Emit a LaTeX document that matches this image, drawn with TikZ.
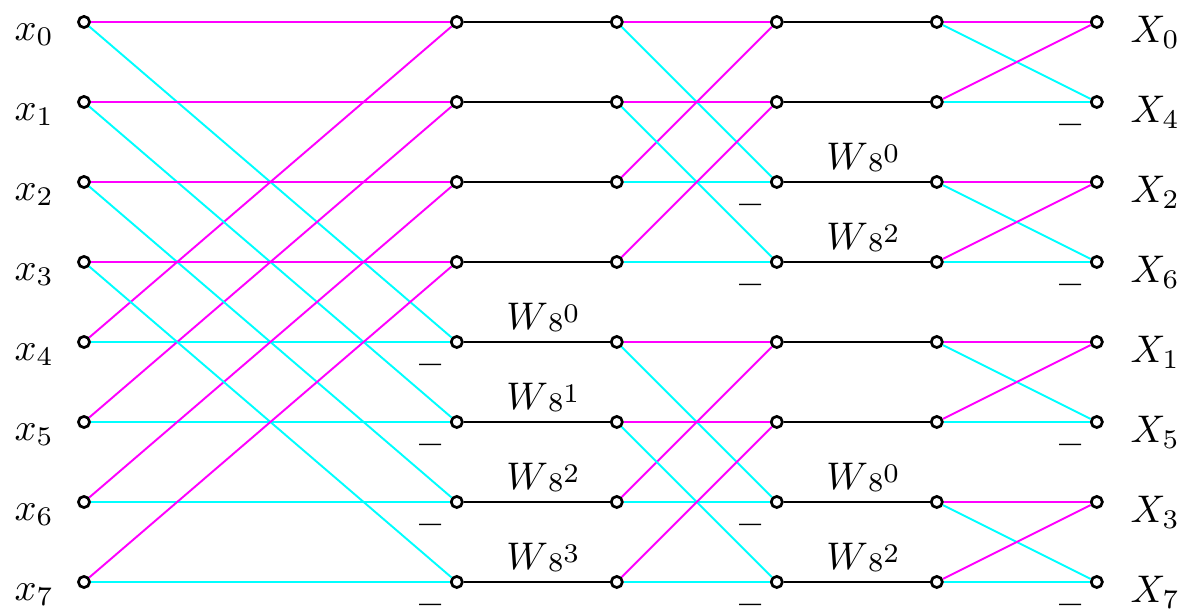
\documentclass[tikz,border=0pt]{standalone}
\usepackage{amsmath}
\usepackage{tikz}
\definecolor{sumc}{HTML}{FF00FF}
\definecolor{difc}{HTML}{00FFFF}
\newcommand\twf[1]{$W\raisebox{-0.5pt}{$\scriptstyle 8$}\raisebox{1.8pt}{$\scriptstyle #1$}$}
\newcommand\minbar{\raisebox{-2.4pt}[0.8pt][0pt]{\textbf{--}}}

\begin{document}
\begin{tikzpicture}[x=0.73cm,y=-0.73cm,line width=0.5pt,
  pt/.style={circle,draw,fill=white,line width=0.7pt,inner sep=0pt,minimum size=2.9pt},
  sum/.style={sumc},
  dif/.style={difc},
  inlab/.style={anchor=base east,xshift=-2.4pt,yshift=-4.7pt},
  outlab/.style={anchor=base west,xshift=3.4pt,yshift=-5.3pt},
  tw/.style={anchor=base,xshift=1.5pt,yshift=3.3pt},
  minus/.style={inner sep=0pt,xshift=-6.75pt,yshift=-5.9pt}]
  \useasboundingbox(-1.05,-0.275)rectangle(13.7,7.3375);
  % points of each column
  \foreach \c/\x in {a/0,b/4.66,c/6.66,d/8.66,e/10.66,f/12.66}
    \foreach \i in {0,...,7}\node[pt](\c\i)at(\x,\i){};
  % butterflies
  \foreach \p/\q/\i/\j in {a/b/0/4,a/b/1/5,a/b/2/6,a/b/3/7,c/d/0/2,c/d/1/3,c/d/4/6,c/d/5/7,e/f/0/1,e/f/2/3,e/f/4/5,e/f/6/7}{
    \draw[sum](\p\i)--(\q\i);\draw[dif](\p\i)--(\q\j);
    \draw[sum](\p\j)--(\q\i);\draw[dif](\p\j)--(\q\j);
    \node[minus](m\q\j)at(\q\j){\minbar};}
  % twiddle factors
  \foreach \i in {0,...,3}\draw(b\i)--(c\i);
  \foreach \i/\k in {4/0,5/1,6/2,7/3}\draw(b\i)--node[tw]{\twf{\k}}(c\i);
  \foreach \i in {0,1,4,5}\draw(d\i)--(e\i);
  \foreach \i/\k in {2/0,3/2,6/0,7/2}\draw(d\i)--node[tw]{\twf{\k}}(e\i);
  % inputs and outputs
  \foreach \i in {0,...,7}\node[inlab](x\i)at(a\i.west){$x_\i$};
  \foreach \i/\k in {0/0,1/4,2/2,3/6,4/1,5/5,6/3,7/7}\node[outlab](X\i)at(f\i.east){$X_\k$};
\end{tikzpicture}
\end{document}
